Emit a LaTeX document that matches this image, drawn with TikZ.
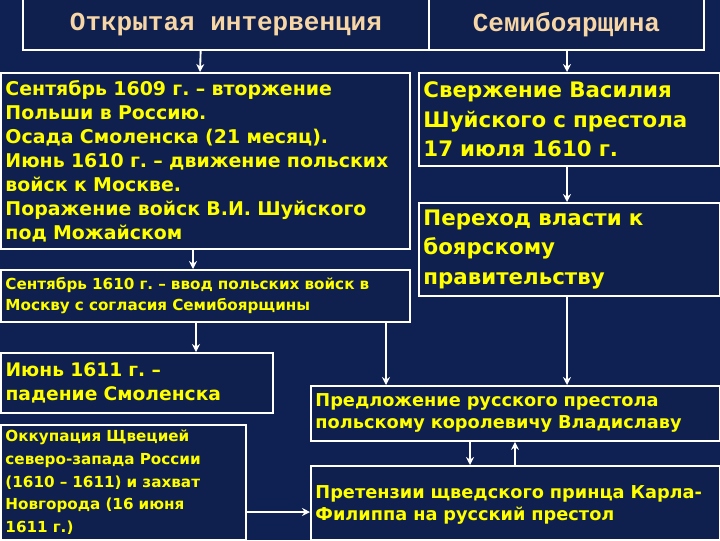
\documentclass[tikz,border=0pt]{standalone}
\usepackage{fontspec}
\setmainfont{DejaVu Sans}
\newfontfamily\titlefont{Liberation Mono}
\usetikzlibrary{arrows.meta}
\definecolor{bg}{HTML}{0E2152}
\definecolor{boxbg}{HTML}{10204E}
\definecolor{ylw}{HTML}{FFFF00}
\definecolor{peach}{HTML}{F6D6A6}
\tikzset{
  box/.style={draw=white, line width=1.4pt, fill=boxbg, anchor=north west, inner sep=3pt, align=left, text=ylw, font=\bfseries},
  ttl/.style={draw=white, line width=1.4pt, fill=boxbg, anchor=north west, inner sep=0pt, text=peach, font=\titlefont\bfseries\fontsize{19.5}{20}\selectfont},
  arr/.style={draw=white, line width=1.4pt, -{Stealth[length=6pt,width=6pt]}}
}
\begin{document}
\frenchspacing
\begin{tikzpicture}[x=0.75pt,y=-0.75pt]
\fill[bg] (0,0) rectangle (720,540);
\useasboundingbox (0,0) rectangle (720,540);
\node[ttl, minimum width=304.5pt, minimum height=38.25pt] (t1) at (22,-2) {Открытая интервенция};
\node[ttl, minimum width=206.25pt, minimum height=38.25pt] (t2) at (428,-2) {Семибоярщина};
\node[box, minimum width=306.75pt, minimum height=132pt, text width=300pt, font=\bfseries\fontsize{14.2}{18}\selectfont] (a) at (0,72)
 {Сентябрь 1609 г. – вторжение\\Польши в Россию.\\Осада Смоленска (21 месяц).\\Июнь 1610 г. – движение польских\\войск к Москве.\\Поражение войск В.И. Шуйского\\под Можайском\\[8pt]};
\node[box, minimum width=306.75pt, minimum height=39pt, text width=300pt, font=\bfseries\fontsize{11.4}{15.5}\selectfont] (b) at (0,269)
 {Сентябрь 1610 г. – ввод польских войск в\\Москву с согласия Семибоярщины};
\node[box, minimum width=225.75pt, minimum height=69.75pt, text width=219pt, font=\bfseries\fontsize{16}{22}\selectfont] (c1) at (418,72)
 {Свержение Василия\\Шуйского с престола\\17 июля 1610 г.};
\node[box, minimum width=225.75pt, minimum height=69.75pt, text width=219pt, font=\bfseries\fontsize{16}{22}\selectfont] (c2) at (418,202)
 {Переход власти к\\боярскому\\правительству};
\node[box, minimum width=204pt, minimum height=45pt, text width=197pt, font=\bfseries\fontsize{14}{18}\selectfont] (c) at (0,352)
 {Июнь 1611 г. –\\падение Смоленска\\[6pt]};
\node[box, minimum width=183.75pt, minimum height=86.25pt, text width=177pt, font=\bfseries\fontsize{11.4}{17}\selectfont] (d) at (0,424)
 {Оккупация Щвецией\\северо-запада России\\(1610 – 1611) и захват\\Новгорода (16 июня\\1611 г.)};
\node[box, minimum width=306.75pt, minimum height=41.25pt, text width=300pt, font=\bfseries\fontsize{13.3}{16.5}\selectfont] (e) at (310,385)
 {Предложение русского престола\\польскому королевичу Владиславу};
\node[box, minimum width=306.75pt, minimum height=55.5pt, text width=300pt, font=\bfseries\fontsize{13.3}{16.5}\selectfont] (f) at (310,465)
 {\\[-4pt]Претензии щведского принца Карла-\\Филиппа на русский престол};
\draw[arr] ([xshift=134pt]t1.south west) -- ([xshift=150pt]a.north west);
\draw[arr] ([xshift=104.25pt]t2.south west) -- ([xshift=111.75pt]c1.north west);
\draw[arr] ([xshift=111.75pt]c1.south west) -- ([xshift=111.75pt]c2.north west);
\draw[arr] ([xshift=144.75pt]a.south west) -- ([xshift=144.75pt]b.north west);
\draw[arr] ([xshift=147pt]b.south west) -- ([xshift=147pt]c.north west);
\draw[arr] ([xshift=289.5pt]b.south west) -- ([xshift=57pt]e.north west);
\draw[arr] ([xshift=111.75pt]c2.south west) -- ([xshift=192.75pt]e.north west);
\draw[arr] ([xshift=120pt]e.south west) -- ([xshift=120pt]f.north west);
\draw[arr] ([xshift=153.75pt]f.north west) -- ([xshift=153.75pt]e.south west);
\draw[arr] ([yshift=-66pt]d.north east) -- ([yshift=-35.25pt]f.north west);
\end{tikzpicture}
\end{document}
